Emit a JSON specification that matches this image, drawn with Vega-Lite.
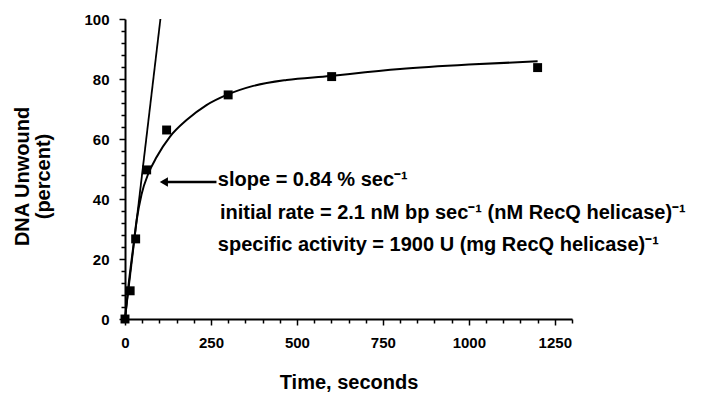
{
  "$schema": "https://vega.github.io/schema/vega-lite/v6.json",
  "autosize": "none",
  "padding": {"left": 125, "top": 19, "right": 130, "bottom": 77},
  "width": 447,
  "height": 300,
  "background": "white",
  "config": {
    "view": {"stroke": null},
    "font": "Liberation Sans",
    "axis": {
      "domainColor": "black", "domainWidth": 2, "tickColor": "black", "tickWidth": 1.5,
      "labelFont": "Liberation Sans", "labelFontWeight": "bold", "labelFontSize": 15, "labelColor": "black",
      "titleFont": "Liberation Sans", "titleFontWeight": "bold", "titleFontSize": 20, "titleColor": "black",
      "grid": false, "labelOverlap": false, "labelFlush": false
    }
  },
  "datasets": {
    "points": [
      {"t": 0, "pct": 0}, {"t": 15, "pct": 9.4}, {"t": 31, "pct": 26.7}, {"t": 63, "pct": 49.7},
      {"t": 121, "pct": 63}, {"t": 300, "pct": 74.7}, {"t": 601, "pct": 80.8}, {"t": 1200, "pct": 83.8}
    ],
    "curve": [
      {"t": 0, "pct": 0}, {"t": 10, "pct": 11}, {"t": 24, "pct": 24}, {"t": 34, "pct": 33}, {"t": 48, "pct": 41.5},
      {"t": 68, "pct": 48.5}, {"t": 92, "pct": 54}, {"t": 131, "pct": 60.8}, {"t": 179, "pct": 66.3},
      {"t": 237, "pct": 71.3}, {"t": 296, "pct": 74.7}, {"t": 373, "pct": 77.7}, {"t": 470, "pct": 79.7},
      {"t": 596, "pct": 81}, {"t": 654, "pct": 81.7}, {"t": 800, "pct": 83.3}, {"t": 1000, "pct": 84.8},
      {"t": 1200, "pct": 85.9}
    ],
    "tangent": [{"t": 0, "pct": 0}, {"t": 103, "pct": 100}],
    "arrow": [{"t1": 118, "t2": 266, "pct": 45.7}],
    "arrowhead": [{"t": 113, "pct": 45.7}],
    "notes": [
      {"t": 270, "pct": 44.3, "text": "slope = 0.84 % sec⁻¹"},
      {"t": 276, "pct": 33.3, "text": "initial rate = 2.1 nM bp sec⁻¹ (nM RecQ helicase)⁻¹"},
      {"t": 270, "pct": 22.7, "text": "specific activity = 1900 U (mg RecQ helicase)⁻¹"}
    ]
  },
  "encoding": {
    "x": {
      "field": "t", "type": "quantitative",
      "scale": {"domain": [0, 1300], "nice": false, "zero": false},
      "axis": {
        "title": "Time, seconds", "titlePadding": 22, "format": "d",
        "values": [0,50,100,150,200,250,300,350,400,450,500,550,600,650,700,750,800,850,900,950,1000,1050,1100,1150,1200,1250,1300],
        "labelExpr": "datum.value % 250 === 0 ? datum.label : ''",
        "tickSize": {"condition": {"test": "datum.value % 250 === 0", "value": 6}, "value": 4},
        "labelPadding": 10
      }
    },
    "y": {
      "field": "pct", "type": "quantitative",
      "scale": {"domain": [0, 100], "nice": false},
      "axis": {
        "title": ["DNA Unwound", "(percent)"], "titlePadding": 30, "titleLineHeight": 21, "titleY": 157,
        "values": [0,4,8,12,16,20,24,28,32,36,40,44,48,52,56,60,64,68,72,76,80,84,88,92,96,100],
        "labelExpr": "datum.value % 20 === 0 ? datum.label : ''",
        "tickSize": {"condition": {"test": "datum.value % 20 === 0", "value": 6}, "value": 4},
        "labelPadding": 10
      }
    }
  },
  "layer": [
    {"data": {"name": "curve"}, "mark": {"type": "line", "color": "black", "strokeWidth": 2, "interpolate": "monotone"}},
    {"data": {"name": "tangent"}, "mark": {"type": "line", "color": "black", "strokeWidth": 1.8}},
    {"data": {"name": "points"}, "mark": {"type": "point", "shape": "square", "filled": true, "color": "black", "opacity": 1, "size": 80}},
    {"data": {"name": "arrow"}, "mark": {"type": "rule", "color": "black", "strokeWidth": 2.5},
     "encoding": {"x": {"field": "t1", "type": "quantitative"}, "x2": {"field": "t2"}}},
    {"data": {"name": "arrowhead"}, "mark": {"type": "point", "shape": "triangle-left", "filled": true, "color": "black", "opacity": 1, "size": 90}},
    {"data": {"name": "notes"}, "mark": {"type": "text", "align": "left", "baseline": "alphabetic", "font": "Liberation Sans", "fontWeight": "bold", "fontSize": 20, "color": "black"},
     "encoding": {"text": {"field": "text"}}}
  ]
}
